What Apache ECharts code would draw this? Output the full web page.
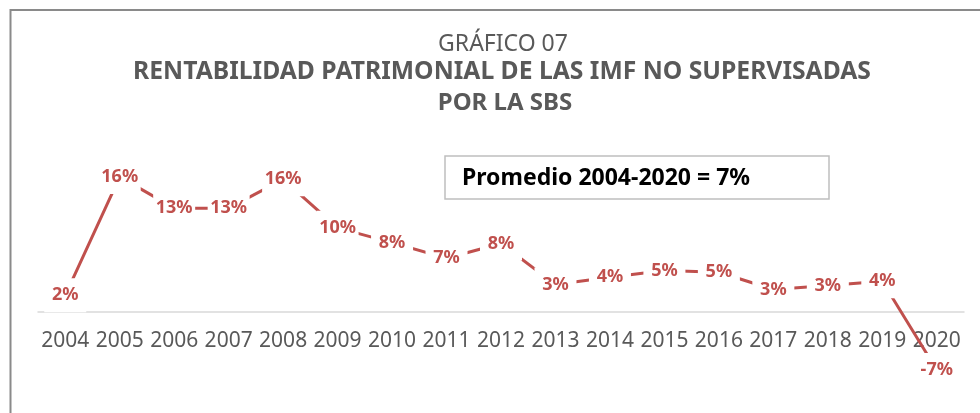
<!DOCTYPE html>
<html>
<head>
<meta charset="utf-8">
<script src="https://cdn.jsdelivr.net/npm/echarts@6/dist/echarts.min.js"></script>
<style>
html,body{margin:0;padding:0;background:#fff;}
#chart{width:980px;height:413px;}
</style>
</head>
<body>
<div id="chart"></div>
<script>
const years = ['2004','2005','2006','2007','2008','2009','2010','2011','2012','2013','2014','2015','2016','2017','2018','2019','2020'];
const roe = [2.0, 16.4, 12.6, 12.6, 16.1, 10.2, 8.4, 6.5, 8.3, 3.3, 4.2, 5.0, 4.8, 2.7, 3.2, 3.7, -7.1];
const titleLines = ['GRÁFICO 07', 'RENTABILIDAD PATRIMONIAL DE LAS IMF NO SUPERVISADAS', 'POR LA SBS'];
const noteText = 'Promedio 2004-2020 = 7%';

const chart = echarts.init(document.getElementById('chart'), null, {renderer: 'canvas'});
const FONT = '"Noto Sans", "Open Sans", sans-serif';
chart.setOption({
  animation: false,
  backgroundColor: '#ffffff',
  grid: {left: 38, right: 16, top: 147.3, bottom: 101.3, containLabel: false, outerBoundsMode: 'none'},
  xAxis: {
    type: 'category',
    data: years,
    boundaryGap: true,
    axisLine: {show: true, onZero: false, lineStyle: {color: '#d9d9d9', width: 1.5}},
    axisTick: {show: false},
    axisLabel: {interval: 0, margin: 19, fontSize: 21, color: '#595959', fontFamily: FONT},
    splitLine: {show: false}
  },
  yAxis: {type: 'value', min: 0, max: 20, show: false, splitLine: {show: false}},
  series: [{
    type: 'line',
    data: roe,
    clip: false,
    z: 5,
    symbol: 'circle',
    symbolSize: 2,
    showSymbol: true,
    itemStyle: {color: '#C0504D'},
    lineStyle: {color: '#C0504D', width: 3},
    label: {
      show: true,
      position: 'inside',
      formatter: p => Math.round(p.value) + '%',
      fontSize: 18,
      fontWeight: 'bold',
      fontFamily: FONT,
      color: '#C0504D',
      backgroundColor: '#ffffff',
      width: 38,
      align: 'center',
      padding: [8, 2],
      lineHeight: 18
    },
    emphasis: {disabled: true}
  }],
  graphic: [
    {type: 'rect', silent: true, z: -1, shape: {x: 10.5, y: 10, width: 1000, height: 500},
     style: {fill: 'none', stroke: '#8a8a8a', lineWidth: 2}},
    {type: 'text', silent: true, style: {text: titleLines[0], x: 503, y: 44, align: 'center', verticalAlign: 'middle',
      fontSize: 23, fontFamily: FONT, fill: '#595959'}},
    {type: 'text', silent: true, style: {text: titleLines[1], x: 502, y: 72, align: 'center', verticalAlign: 'middle',
      fontSize: 24.7, fontWeight: 'bold', fontFamily: FONT, fill: '#595959'}},
    {type: 'text', silent: true, style: {text: titleLines[2], x: 505, y: 103, align: 'center', verticalAlign: 'middle',
      fontSize: 24, fontWeight: 'bold', fontFamily: FONT, fill: '#595959'}},
    {type: 'rect', silent: true, shape: {x: 445, y: 156, width: 384, height: 43},
     style: {fill: '#ffffff', stroke: '#bfbfbf', lineWidth: 1.5}},
    {type: 'text', silent: true, style: {text: noteText, x: 462, y: 178, align: 'left', verticalAlign: 'middle',
      fontSize: 23, fontWeight: 'bold', fontFamily: FONT, fill: '#000000'}}
  ]
});
</script>
</body>
</html>
